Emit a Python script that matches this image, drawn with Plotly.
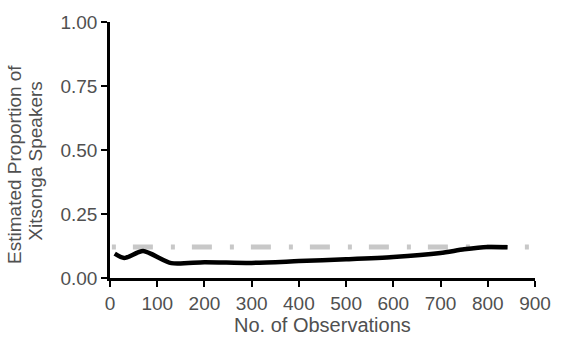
import plotly.graph_objects as go

obs = [10, 30, 70, 130, 200, 300, 400, 500, 600, 700, 750, 800, 842]
prop = [0.095, 0.078, 0.105, 0.058, 0.062, 0.059, 0.066, 0.073, 0.082, 0.098, 0.112, 0.121, 0.12]
ref_x = [4, 900]
ref_y = [0.121, 0.121]
xticks = [0, 100, 200, 300, 400, 500, 600, 700, 800, 900]
yticks = [0.0, 0.25, 0.5, 0.75, 1.0]
x_title = "No. of Observations"
y_title_lines = ["Estimated Proportion of", "Xitsonga Speakers"]

fig = go.Figure()
fig.add_trace(go.Scatter(x=ref_x, y=ref_y, mode="lines",
                         line=dict(color="#c8c8c8", width=5, dash="4px,17px,20px,18px"),
                         showlegend=False))
fig.add_trace(go.Scatter(x=obs, y=prop, mode="lines", line_shape="spline",
                         line=dict(color="black", width=4.5, smoothing=0.7), showlegend=False))

fam = "Liberation Sans, Arial, sans-serif"
tickfont = dict(family=fam, size=19, color="#505050")
titlefont = dict(family=fam, size=20, color="#505050")
ytitlefont = dict(family=fam, size=19, color="#505050")
fig.update_layout(
    width=563, height=337,
    margin=dict(l=110, r=20, t=22, b=59),
    plot_bgcolor="white", paper_bgcolor="white",
    xaxis=dict(range=[0, 900], tickvals=xticks, ticktext=[str(v) for v in xticks],
               showline=True, linecolor="black", linewidth=2.5, ticks="outside",
               ticklen=6, tickwidth=2, tickcolor="black", showgrid=False, zeroline=False,
               tickfont=tickfont),
    yaxis=dict(range=[0, 1], tickvals=yticks, ticktext=["%.2f" % v for v in yticks],
               showline=True, linecolor="black", linewidth=2.5, ticks="outside",
               ticklen=6, tickwidth=2, tickcolor="black", showgrid=False, zeroline=False,
               tickfont=tickfont),
    annotations=[
        dict(text=x_title, xref="paper", yref="paper", x=0.5, y=-0.1836,
             xanchor="center", yanchor="middle", showarrow=False, font=titlefont),
        dict(text=y_title_lines[0], xref="paper", yref="paper",
             x=-0.2263, y=0.445, xanchor="center", yanchor="middle", textangle=-90,
             showarrow=False, font=ytitlefont),
        dict(text=y_title_lines[1], xref="paper", yref="paper",
             x=-0.1755, y=0.46, xanchor="center", yanchor="middle", textangle=-90,
             showarrow=False, font=ytitlefont),
    ],
)
fig.write_html("out.html")
